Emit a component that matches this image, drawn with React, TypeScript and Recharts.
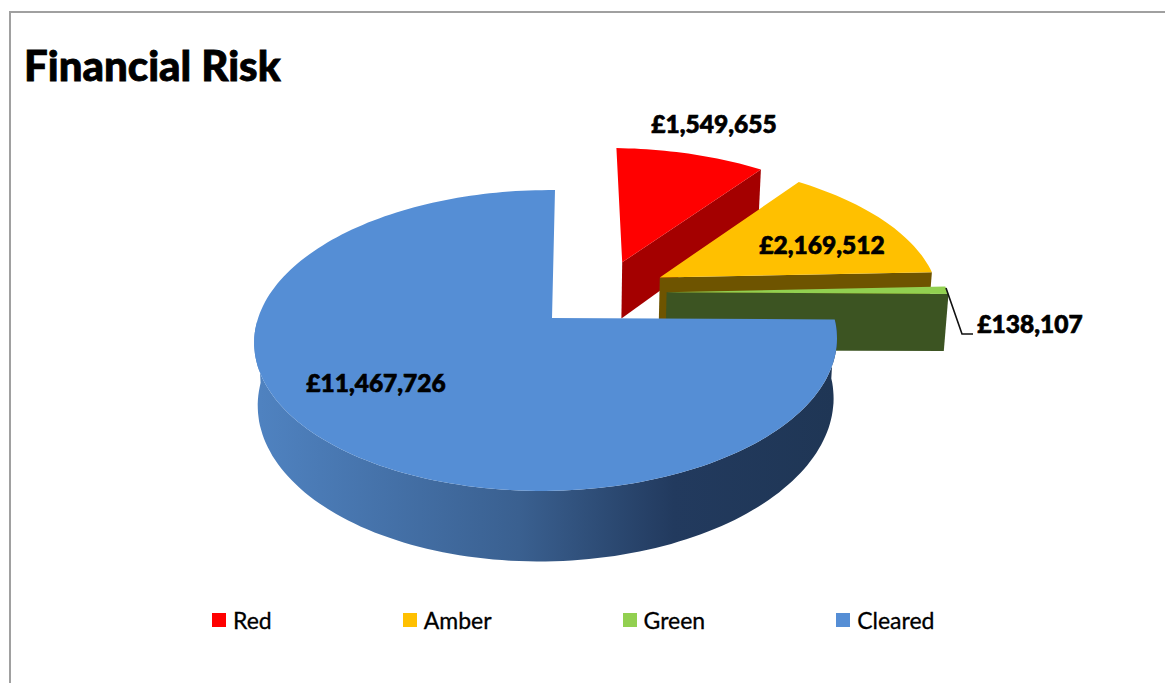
import { PieChart, Pie, Legend } from 'recharts';

const categories = ['Red', 'Amber', 'Green', 'Cleared'];
const amounts = [1549655, 2169512, 138107, 11467726];
const topColors = ['#ff0000', '#ffc000', '#92d050', '#558ed5'];
const sideColors = ['#a40000', '#6e5400', '#3c5422', 'url(#clearedWall)'];

// how far each slice is pulled out of the pie, in units of the radius
const explode = [
  [0.255, -0.404],
  [0.39, -0.29],
  [0.41, -0.182],
  [0, 0],
];
// the pulled-out slices sit closer to the viewer's right, so they read a bit wider
const widen = [1.01, 1.03, 1.04, 1];
const labelSpots = [
  [714, 123],
  [822, 244],
  [1030, 323],
  [376, 382],
];

const pieData = categories.map((name, i) => ({ name, value: amounts[i], fill: topColors[i], side: sideColors[i], index: i }));

const FONT = 'Lato, "Open Sans", sans-serif';
const TILT = 147 / 288; // vertical squash of the disc
const NEAR = 0.1495; // perspective strength front to back
const SIDE = -0.02; // perspective strength left to right
const SHEAR = -0.012; // camera sits slightly left of the pie
const THICKNESS = 60;
const CONVERGE = 0.012;

const rad = (d: number) => (d * Math.PI) / 180;

function project(cx: number, cy: number, r: number, u: number, v: number, depth = 0) {
  const s = 1 / (1 - NEAR * v - SIDE * u);
  const shrink = 1 - (CONVERGE * depth) / THICKNESS;
  return [cx + r * (u * shrink + SHEAR * v) * s, cy + r * TILT * v * s + depth * s];
}

const toPath = (pts: number[][]) =>
  pts.map((p, i) => `${i ? 'L' : 'M'}${p[0].toFixed(1)},${p[1].toFixed(1)}`).join(' ') + ' Z';

function Slice3D(props: any) {
  const { cx, cy, outerRadius: r, startAngle, endAngle, fill, payload } = props;
  const d = payload?.index ?? props.index ?? 0;
  const [ox, oy] = explode[d];
  const side = payload?.side ?? sideColors[d];
  const steps = Math.max(2, Math.ceil(Math.abs(endAngle - startAngle) / 1.5));
  const angles = Array.from({ length: steps + 1 }, (_, i) => startAngle + ((endAngle - startAngle) * i) / steps);
  const rim = (a: number, depth = 0) =>
    project(cx, cy, r, ox + widen[d] * Math.cos(rad(a)), oy - Math.sin(rad(a)), depth);
  const apex = (depth = 0) => project(cx, cy, r, ox, oy, depth);

  const top = [apex(), ...angles.map((a) => rim(a))];
  // the front of the rim only: the part facing the viewer
  const front = angles.filter((a) => Math.sin(rad(a)) <= 0.001);
  const wall = front.length > 1 ? [...front.map((a) => rim(a)), ...[...front].reverse().map((a) => rim(a, THICKNESS))] : null;
  const cut = [apex(), rim(endAngle), rim(endAngle, THICKNESS), apex(THICKNESS)];

  return (
    <g>
      {d !== 3 && <path d={toPath(cut)} fill={side} />}
      {wall && <path d={toPath(wall)} fill={side} />}
      <path d={toPath(top)} fill={fill} />
    </g>
  );
}

function ValueLabel(props: any) {
  const i = categories.indexOf(props.name);
  const [x, y] = labelSpots[i];
  return (
    <g>
      {i === 2 && <polyline points="946,288 962,334 973,334" fill="none" stroke="#111" strokeWidth={1.6} />}
      <text
        x={x}
        y={y}
        textAnchor="middle"
        dominantBaseline="central"
        fontFamily={FONT}
        fontWeight={900}
        fontSize={24.5}
        stroke="#000"
        strokeWidth={0.7}
        fill="#000"
      >
        £{Number(props.value).toLocaleString('en-GB')}
      </text>
    </g>
  );
}

function LegendRow() {
  return (
    <div style={{ display: 'flex', gap: 131, fontFamily: FONT, fontSize: 23, color: '#000', paddingLeft: 212 }}>
      {categories.map((name, i) => (
        <div key={name} style={{ display: 'flex', alignItems: 'center', gap: 7, WebkitTextStroke: '0.3px #000' }}>
          <span style={{ width: 14, height: 14, background: topColors[i] }} />
          {name}
        </div>
      ))}
    </div>
  );
}

export default function App() {
  return (
    <div style={{ position: 'absolute', left: 0, top: 0, width: 1165, height: 683, background: '#fff', overflow: 'hidden' }}>
      <div
        style={{
          position: 'absolute',
          left: 9,
          top: 11,
          right: 0,
          bottom: 0,
          borderTop: '2px solid #a0a0a0',
          borderLeft: '2px solid #a0a0a0',
        }}
      />
      <div
        style={{
          position: 'absolute',
          left: 24,
          top: 38,
          fontFamily: FONT,
          fontWeight: 900,
          fontSize: 42,
          lineHeight: '54px',
          color: '#000',
          WebkitTextStroke: '0.8px #000',
        }}
      >
        Financial Risk
      </div>
      <PieChart
        width={1165}
        height={683}
        margin={{ top: 0, right: 0, bottom: 0, left: 0 }}
        style={{ position: 'absolute', left: 0, top: 0 }}
      >
        <defs>
          <linearGradient id="clearedWall" gradientUnits="userSpaceOnUse" x1="260" y1="0" x2="835" y2="0">
            <stop offset="0" stopColor="#4f82c0" />
            <stop offset="0.45" stopColor="#3a6090" />
            <stop offset="0.72" stopColor="#223a5e" />
            <stop offset="1" stopColor="#1f3655" />
          </linearGradient>
        </defs>
        <Pie
          data={pieData}
          dataKey="value"
          nameKey="name"
          cx={552}
          cy={318}
          outerRadius={288}
          startAngle={90}
          endAngle={-270}
          stroke="none"
          isAnimationActive={false}
          shape={Slice3D}
          label={ValueLabel}
          labelLine={false}
        />
        <Legend
          content={<LegendRow />}
          layout="horizontal"
          verticalAlign="bottom"
          wrapperStyle={{ left: 0, top: 606, bottom: 'auto', width: 1165 }}
        />
      </PieChart>
    </div>
  );
}
